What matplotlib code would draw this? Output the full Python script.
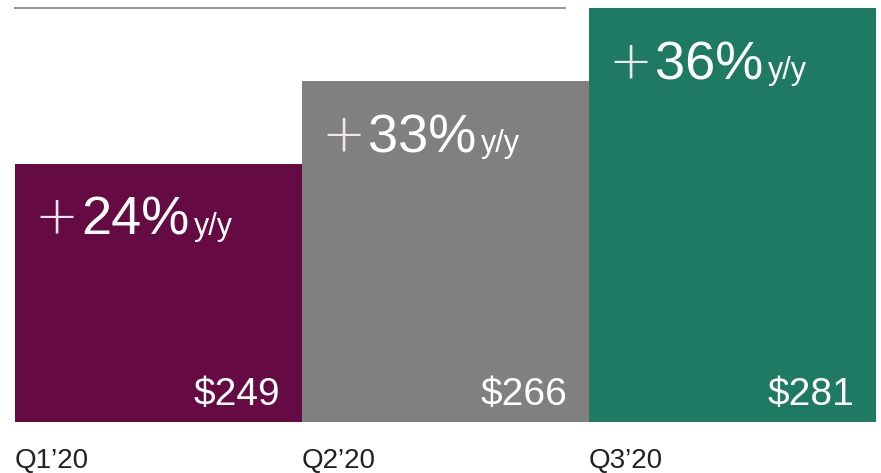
import matplotlib
matplotlib.use("Agg")
import matplotlib.pyplot as plt

quarters = ["Q1\u201920", "Q2\u201920", "Q3\u201920"]
revenue = [249, 266, 281]
growth = ["24%", "33%", "36%"]
colors = ["#650A42", "#808080", "#1E7A62"]

W, H = 881, 473
fig = plt.figure(figsize=(W / 100, H / 100), dpi=100)
ax = fig.add_axes([15 / W, (H - 422) / H, 861 / W, 414 / H])

x = list(range(len(quarters)))
ax.bar(x, revenue, width=1.0, color=colors, align="center")
ax.set_xlim(-0.5, len(quarters) - 0.5)
ax.set_ylim(196, 281)
ax.axis("off")

# thin line at top
ax.axhline(281, xmin=0, xmax=550 / 861, color="#9a9a9a", lw=1.5, clip_on=False)

fam = ["Liberation Sans", "DejaVu Sans"]
px = 0.72  # points per pixel at 100 dpi
for i, (v, g) in enumerate(zip(revenue, growth)):
    left = i - 0.5
    right = i + 0.5
    # growth label
    ax.annotate("+", xy=(left, v), xytext=(19 * px, -70 * px), textcoords="offset points",
                ha="left", va="baseline", fontsize=38, color="#f0e6ee",
                family=["DejaVu Sans"], fontweight="ultralight")
    ax.annotate(g, xy=(left, v), xytext=(66 * px, -71 * px), textcoords="offset points",
                ha="left", va="baseline", fontsize=39, color="white", family=fam)
    ax.annotate("y/y", xy=(left, v), xytext=(179 * px, -71 * px), textcoords="offset points",
                ha="left", va="baseline", fontsize=22, color="white", family=fam)
    # value label
    ax.annotate(f"${v}", xy=(right, 196), xytext=(-22 * px, 17 * px), textcoords="offset points",
                ha="right", va="baseline", fontsize=28, color="white", family=fam)
    # quarter label
    ax.annotate(quarters[i], xy=(left, 196), xytext=(0, -46 * px), textcoords="offset points",
                ha="left", va="baseline", fontsize=20, color="#222222", family=fam,
                annotation_clip=False)

fig.savefig("out.png", dpi=100, facecolor="white")
